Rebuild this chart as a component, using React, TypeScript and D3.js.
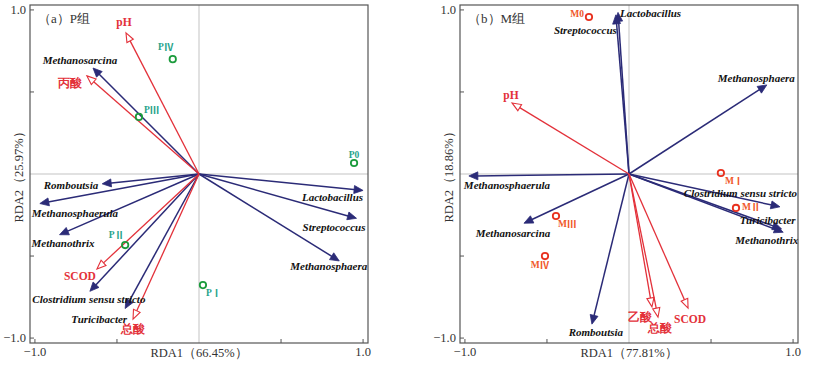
import * as d3 from 'd3';

// ---- panel (a) P组 ----
const pEnvNames = ['pH', '丙酸', 'SCOD', '总酸'];
const pEnvRDA1 = [-0.445, -0.683, -0.622, -0.402];
const pEnvRDA2 = [0.86, 0.598, -0.579, -0.884];

const pSpeciesNames = [
  'Methanosarcina',
  'Romboutsia',
  'Methanosphaerula',
  'Methanothrix',
  'Clostridium sensu stricto',
  'Turicibacter',
  'Lactobacillus',
  'Streptococcus',
  'Methanosphaera',
];
const pSpeciesRDA1 = [-0.646, -0.59, -0.97, -0.85, -0.665, -0.45, 1.0, 0.96, 0.855];
const pSpeciesRDA2 = [0.646, -0.06, -0.18, -0.37, -0.715, -0.82, -0.1, -0.27, -0.53];

const pSampleNames = ['P0', 'PⅠ', 'PⅡ', 'PⅢ', 'PⅣ'];
const pSampleRDA1 = [0.945, 0.024, -0.45, -0.366, -0.16];
const pSampleRDA2 = [0.067, -0.677, -0.433, 0.348, 0.7];

// ---- panel (b) M组 ----
const mEnvNames = ['pH', '乙酸', '总酸', 'SCOD'];
const mEnvRDA1 = [-0.713, 0.14, 0.177, 0.36];
const mEnvRDA2 = [0.433, -0.81, -0.872, -0.817];

const mSpeciesNames = [
  'Lactobacillus',
  'Streptococcus',
  'Methanosphaera',
  'Methanosphaerula',
  'Methanosarcina',
  'Romboutsia',
  'Clostridium sensu stricto',
  'Turicibacter',
  'Methanothrix',
];
const mSpeciesRDA1 = [-0.067, -0.08, 0.84, -0.976, -0.64, -0.226, 0.92, 0.93, 0.94];
const mSpeciesRDA2 = [0.985, 0.97, 0.543, -0.012, -0.3, -0.915, -0.2, -0.335, -0.355];

const mSampleNames = ['M0', 'MⅠ', 'MⅡ', 'MⅢ', 'MⅣ'];
const mSampleRDA1 = [-0.244, 0.56, 0.652, -0.445, -0.512];
const mSampleRDA2 = [0.957, 0.006, -0.207, -0.256, -0.5];

const axisTicks = [-1, -0.5, 0.5, 1];
const tickLabels = ['-1.0', '1.0'];

// label placement: [dx, dy, anchor]
type Place = [number, number, 'start' | 'middle' | 'end'];
const pPlace: Record<string, Place> = {
  pH: [-2, -11, 'middle'],
  丙酸: [-17, 7, 'middle'],
  SCOD: [-17, 7, 'middle'],
  总酸: [0, 10, 'middle'],
  Methanosarcina: [-13, -8, 'middle'],
  Romboutsia: [-4, 1, 'end'],
  Methanosphaerula: [-8, 9, 'start'],
  Methanothrix: [-28, 8, 'start'],
  'Clostridium sensu stricto': [-1, 8, 'middle'],
  Turicibacter: [2, 10, 'end'],
  Lactobacillus: [0, 7, 'end'],
  Streptococcus: [9, 9, 'end'],
  Methanosphaera: [28, 5, 'end'],
  P0: [0, -8, 'middle'],
  PⅠ: [3, 8, 'start'],
  PⅡ: [-1, -10, 'end'],
  PⅢ: [5, -7, 'start'],
  PⅣ: [-7, -12, 'middle'],
};
const mPlace: Record<string, Place> = {
  pH: [-1, -8, 'middle'],
  乙酸: [-12, 10, 'middle'],
  总酸: [2, 11, 'middle'],
  SCOD: [2, 11, 'middle'],
  Lactobacillus: [2, 1, 'start'],
  Streptococcus: [1, 15, 'end'],
  Methanosphaera: [28, -7, 'end'],
  Methanosphaerula: [-5, 9, 'start'],
  Methanosarcina: [-11, 10, 'middle'],
  Romboutsia: [4, 8, 'middle'],
  'Clostridium sensu stricto': [17, -14, 'end'],
  Turicibacter: [14, -9, 'end'],
  Methanothrix: [15, 8, 'end'],
  M0: [-5, -3, 'end'],
  MⅠ: [4, 8, 'start'],
  MⅡ: [6, -1, 'start'],
  MⅢ: [2, 8, 'start'],
  MⅣ: [-5, 9, 'middle'],
};

const NAVY = '#2b2b77';
const RED = '#e3313a';
const SERIF = '"Liberation Serif", "Times New Roman", serif';
const CJK = '"Noto Sans CJK SC", sans-serif';

interface PanelProps {
  left: number;
  title: string;
  xTitle: string;
  yTitle: string;
  envNames: string[];
  envX: number[];
  envY: number[];
  spNames: string[];
  spX: number[];
  spY: number[];
  smNames: string[];
  smX: number[];
  smY: number[];
  place: Record<string, Place>;
  sampleColor: string;
  sampleLabelColor: string;
}

const Panel = (p: PanelProps) => {
  const top = 5;
  const bottom = 343;
  const right = p.left + 338;
  const x = d3.scaleLinear().domain([-1.03, 1.03]).range([p.left, right]);
  const y = d3.scaleLinear().domain([1.03, -1.03]).range([top, bottom]);
  const ox = x(0);
  const oy = y(0);

  const arrow = (tx: number, ty: number, open: boolean, key: string) => {
    const ang = Math.atan2(ty - oy, tx - ox);
    const len = 9;
    const hw = open ? 3.6 : 4;
    const bx = tx - len * Math.cos(ang);
    const by = ty - len * Math.sin(ang);
    const px = -Math.sin(ang) * hw;
    const py = Math.cos(ang) * hw;
    const head = `${tx},${ty} ${bx + px},${by + py} ${bx - px},${by - py}`;
    const c = open ? RED : NAVY;
    return (
      <g key={key}>
        <line
          x1={ox}
          y1={oy}
          x2={open ? bx : bx + 2 * Math.cos(ang)}
          y2={open ? by : by + 2 * Math.sin(ang)}
          stroke={c}
          strokeWidth={open ? 1.3 : 1.5}
        />
        <polygon points={head} fill={open ? '#fff' : c} stroke={c} strokeWidth={open ? 1.1 : 0.8} />
      </g>
    );
  };

  const label = (
    name: string,
    tx: number,
    ty: number,
    color: string,
    size: number,
    italic: boolean,
    split = false,
  ) => {
    const [dx, dy, anchor] = p.place[name] || [0, 0, 'middle'];
    return (
      <text
        key={'l' + name}
        x={tx + dx}
        y={ty + dy}
        textAnchor={anchor}
        dominantBaseline="central"
        fill={color}
        fontSize={size}
        fontWeight="bold"
        fontStyle={italic ? 'italic' : 'normal'}
        fontFamily={SERIF}
      >
        {split && !/[0-9]/.test(name[1]) ? (
          <>
            <tspan>{name[0]}</tspan>
            <tspan fontFamily={CJK}>{name.slice(1)}</tspan>
          </>
        ) : (
          name
        )}
      </text>
    );
  };

  return (
    <g>
      {/* origin lines */}
      <line x1={ox} x2={ox} y1={top} y2={bottom} stroke="#b4b4b4" strokeWidth={0.8} />
      <line x1={p.left} x2={right} y1={oy} y2={oy} stroke="#b4b4b4" strokeWidth={0.8} />

      {/* species arrows */}
      {p.spNames.map((n, i) => arrow(x(p.spX[i]), y(p.spY[i]), false, 's' + n))}
      {/* environment arrows */}
      {p.envNames.map((n, i) => arrow(x(p.envX[i]), y(p.envY[i]), true, 'e' + n))}

      {/* samples */}
      {p.smNames.map((n, i) => (
        <circle
          key={'c' + n}
          cx={x(p.smX[i])}
          cy={y(p.smY[i])}
          r={3.2}
          fill="none"
          stroke={p.sampleColor}
          strokeWidth={1.8}
        />
      ))}

      {p.spNames.map((n, i) => label(n, x(p.spX[i]), y(p.spY[i]), '#111', 11, true))}
      {p.envNames.map((n, i) => label(n, x(p.envX[i]), y(p.envY[i]), RED, 11.5, false))}
      {p.smNames.map((n, i) => label(n, x(p.smX[i]), y(p.smY[i]), p.sampleLabelColor, 9.5, false, true))}

      {/* frame */}
      <rect x={p.left} y={top} width={right - p.left} height={bottom - top} fill="none" stroke="#555" strokeWidth={1.2} />

      {/* ticks */}
      {axisTicks.map((t) => (
        <g key={'t' + t}>
          <line x1={x(t)} x2={x(t)} y1={bottom} y2={bottom - 4} stroke="#555" strokeWidth={1} />
          <line x1={p.left} x2={p.left + 4} y1={y(t)} y2={y(t)} stroke="#555" strokeWidth={1} />
        </g>
      ))}
      {tickLabels.map((t) => (
        <g key={'tl' + t} fontFamily={SERIF} fontSize={12.5} fill="#333">
          <text x={x(+t)} y={bottom + 9} textAnchor="middle" dominantBaseline="central">
            {t.replace('-', '−')}
          </text>
          <text x={p.left - 4} y={y(+t)} textAnchor="end" dominantBaseline="central">
            {t.replace('-', '−')}
          </text>
        </g>
      ))}

      <text x={ox} y={bottom + 10} textAnchor="middle" dominantBaseline="central" fontFamily={SERIF} fontSize={12.5} fill="#333">
        {p.xTitle}
      </text>
      <text
        transform={`translate(${p.left - 11},${oy}) rotate(-90)`}
        textAnchor="middle"
        dominantBaseline="central"
        fontFamily={SERIF}
        fontSize={12.5}
        fill="#333"
      >
        {p.yTitle}
      </text>
      <text x={p.left + 8} y={top + 13} fontFamily={SERIF} fontSize={13} fill="#333" dominantBaseline="central">
        {p.title}
      </text>
    </g>
  );
};

export default function App() {
  return (
    <svg
      width={814}
      height={370}
      style={{ position: 'absolute', left: 0, top: 0, background: '#fff', display: 'block' }}
    >
      <rect width={814} height={370} fill="#fff" />
      <Panel
        left={30}
        title="（a）P组"
        xTitle="RDA1（66.45%）"
        yTitle="RDA2（25.97%）"
        envNames={pEnvNames}
        envX={pEnvRDA1}
        envY={pEnvRDA2}
        spNames={pSpeciesNames}
        spX={pSpeciesRDA1}
        spY={pSpeciesRDA2}
        smNames={pSampleNames}
        smX={pSampleRDA1}
        smY={pSampleRDA2}
        place={pPlace}
        sampleColor="#1b9b3c"
        sampleLabelColor="#27a38a"
      />
      <Panel
        left={460}
        title="（b）M组"
        xTitle="RDA1（77.81%）"
        yTitle="RDA2（18.86%）"
        envNames={mEnvNames}
        envX={mEnvRDA1}
        envY={mEnvRDA2}
        spNames={mSpeciesNames}
        spX={mSpeciesRDA1}
        spY={mSpeciesRDA2}
        smNames={mSampleNames}
        smX={mSampleRDA1}
        smY={mSampleRDA2}
        place={mPlace}
        sampleColor="#e8301e"
        sampleLabelColor="#f0572a"
      />
    </svg>
  );
}
